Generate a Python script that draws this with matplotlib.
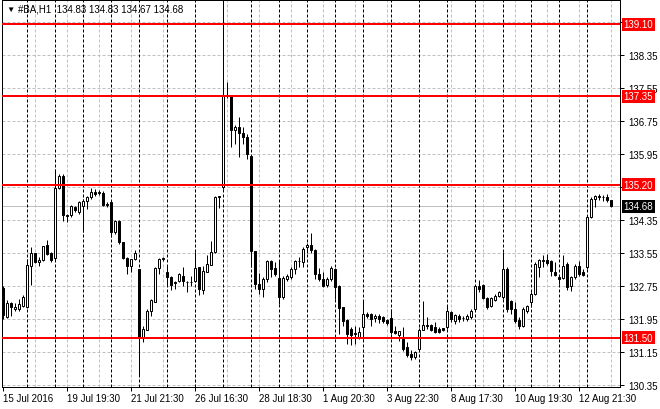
import matplotlib
matplotlib.use("Agg")
import matplotlib.pyplot as plt

plt.rcParams['font.family'] = ['Liberation Sans', 'DejaVu Sans']

# hourly bars of #BA, 15 Jul - 15 Aug 2016
opens = [132.70, 131.99, 132.34, 132.18, 132.19, 132.27, 132.23, 133.24, 133.54, 133.32,
         133.37, 133.74, 133.54, 133.42, 135.12, 135.41, 134.47, 134.46, 134.66, 134.55,
         134.70, 134.82, 134.90, 135.02, 135.00, 135.01, 134.72, 134.78, 134.07, 134.33,
         133.81, 133.42, 133.23, 133.40, 133.16, 131.51, 131.69, 132.14, 132.37, 133.18,
         133.41, 133.08, 132.96, 132.84, 132.86, 133.00, 132.84, 132.84, 132.86, 133.20,
         132.65, 133.10, 133.27, 133.57, 134.90, 135.14, 137.35, 137.36, 136.53, 136.61,
         136.45, 136.37, 135.91, 133.59, 132.80, 132.68, 132.92, 133.36, 133.18, 132.94,
         132.49, 132.92, 132.96, 133.16, 133.35, 133.32, 133.69, 133.74, 133.62, 133.04,
         132.92, 132.78, 132.92, 133.16, 132.76, 132.23, 131.93, 131.71, 131.59, 131.52,
         131.75, 132.07, 132.06, 131.97, 132.03, 131.99, 131.93, 131.97, 131.65, 131.57,
         131.46, 131.28, 131.10, 131.02, 131.22, 131.69, 131.79, 131.80, 131.75, 131.71,
         131.72, 131.75, 132.13, 131.89, 132.03, 131.97, 131.95, 131.99, 132.19, 132.76,
         132.77, 132.45, 132.26, 132.42, 132.51, 132.47, 133.16, 132.39, 132.19, 131.93,
         131.79, 132.15, 132.35, 132.56, 133.20, 133.36, 133.38, 133.35, 133.08, 132.97,
         132.95, 133.28, 132.76, 132.96, 133.24, 133.10, 133.20, 134.43, 134.86, 134.91,
         134.90, 134.91, 134.83]
highs = [132.75, 132.40, 132.35, 132.34, 132.44, 132.52, 133.40, 133.69, 133.55, 133.44,
         133.72, 133.87, 133.57, 135.59, 135.47, 135.47, 134.50, 134.71, 134.70, 134.82,
         134.86, 134.94, 135.12, 135.09, 135.08, 135.06, 134.78, 134.80, 134.36, 134.35,
         133.82, 133.44, 133.41, 133.63, 133.17, 131.79, 132.18, 132.44, 133.20, 133.42,
         133.45, 133.24, 132.98, 132.88, 133.06, 133.20, 132.88, 133.00, 133.58, 133.22,
         133.24, 133.49, 133.85, 134.92, 134.94, 139.65, 137.69, 137.38, 136.66, 136.84,
         136.60, 136.44, 135.92, 133.60, 133.06, 132.96, 133.38, 133.38, 133.32, 133.36,
         133.00, 133.04, 133.20, 133.37, 133.44, 133.69, 133.80, 134.03, 133.65, 133.19,
         133.08, 132.96, 133.24, 133.18, 132.78, 132.25, 131.95, 131.75, 131.79, 131.75,
         132.39, 132.11, 132.09, 132.06, 132.07, 132.01, 131.95, 132.20, 131.79, 131.65,
         131.75, 131.38, 131.20, 131.18, 131.72, 132.39, 131.99, 131.82, 131.87, 131.75,
         131.74, 132.30, 132.15, 132.07, 132.07, 132.03, 132.07, 132.18, 132.76, 132.90,
         132.80, 132.47, 132.47, 132.55, 132.63, 133.57, 133.20, 132.40, 132.35, 131.99,
         132.23, 132.28, 132.60, 133.32, 133.40, 133.49, 133.53, 133.37, 133.32, 133.00,
         133.49, 133.32, 133.00, 133.28, 133.36, 133.16, 134.45, 134.90, 134.96, 134.98,
         134.96, 134.97, 134.83]
lows = [131.95, 131.97, 132.03, 132.14, 132.15, 132.23, 132.21, 132.77, 133.30, 133.23,
        133.36, 133.49, 133.32, 133.36, 135.09, 134.33, 134.31, 134.42, 134.54, 134.50,
        134.05, 134.62, 134.86, 134.94, 134.95, 134.70, 134.66, 133.93, 134.00, 133.77,
        133.40, 133.04, 133.10, 133.38, 130.58, 131.39, 131.67, 132.03, 132.35, 133.04,
        133.36, 132.76, 132.64, 132.68, 132.84, 132.76, 132.60, 132.74, 132.84, 132.52,
        132.56, 133.08, 133.25, 133.55, 134.64, 135.10, 137.30, 136.11, 136.20, 135.87,
        136.19, 135.83, 133.20, 132.68, 132.56, 132.48, 132.84, 132.96, 133.00, 132.31,
        132.43, 132.88, 132.92, 133.04, 133.20, 133.20, 133.55, 133.55, 132.92, 132.88,
        132.72, 132.72, 132.88, 132.43, 131.59, 131.79, 131.34, 131.33, 131.34, 131.46,
        131.46, 131.97, 131.79, 131.87, 131.85, 131.85, 131.81, 131.59, 131.59, 131.42,
        131.18, 131.02, 130.96, 130.98, 131.20, 131.67, 131.71, 131.65, 131.62, 131.62,
        131.65, 131.71, 131.87, 131.83, 131.87, 131.91, 131.91, 131.95, 132.15, 132.60,
        132.43, 132.19, 132.23, 132.39, 132.47, 132.43, 132.11, 132.07, 131.85, 131.71,
        131.75, 132.10, 132.23, 132.52, 132.96, 133.20, 133.26, 133.00, 133.00, 132.80,
        132.92, 132.64, 132.62, 132.92, 133.00, 133.00, 133.16, 134.40, 134.66, 134.83,
        134.82, 134.78, 134.67]
closes = [132.05, 132.34, 132.23, 132.23, 132.31, 132.48, 133.26, 133.54, 133.32, 133.38,
          133.71, 133.53, 133.39, 135.12, 135.41, 134.46, 134.44, 134.70, 134.58, 134.78,
          134.82, 134.90, 135.02, 134.99, 135.02, 134.71, 134.74, 134.05, 134.33, 133.81,
          133.42, 133.24, 133.40, 133.54, 131.51, 131.71, 132.15, 132.40, 133.18, 133.40,
          133.43, 132.96, 132.78, 132.82, 133.04, 132.86, 132.84, 132.85, 133.18, 132.68,
          133.12, 133.28, 133.57, 134.90, 134.92, 137.36, 137.37, 136.53, 136.61, 136.45,
          136.37, 135.95, 133.59, 132.80, 132.68, 132.92, 133.36, 133.16, 133.04, 132.49,
          132.94, 133.00, 133.16, 133.35, 133.36, 133.65, 133.74, 133.61, 133.04, 132.92,
          132.76, 132.92, 133.19, 132.72, 132.22, 131.91, 131.59, 131.55, 131.60, 131.63,
          132.07, 132.01, 131.95, 132.03, 131.95, 131.91, 131.85, 131.63, 131.60, 131.65,
          131.22, 131.08, 131.02, 131.15, 131.69, 131.80, 131.80, 131.67, 131.64, 131.64,
          131.67, 132.15, 131.95, 132.05, 131.95, 131.97, 132.01, 132.15, 132.74, 132.68,
          132.45, 132.23, 132.45, 132.51, 132.61, 133.16, 132.19, 132.19, 131.91, 131.79,
          132.19, 132.26, 132.55, 133.28, 133.38, 133.37, 133.30, 133.11, 133.02, 132.92,
          133.24, 132.72, 132.96, 133.24, 133.04, 133.02, 134.43, 134.86, 134.94, 134.92,
          134.91, 134.83, 134.68]

levels = [139.10, 137.35, 135.20, 131.50]
bid = 134.68
price_ticks = [130.35, 131.15, 131.95, 132.75, 133.55, 134.35, 135.15, 135.95, 136.75, 137.55, 138.35, 139.15]
hidden_ticks = [135.15, 139.15]  # covered by the level boxes in the terminal
time_ticks = [0, 16, 32, 48, 64, 80, 96, 112, 128, 144]
time_labels = ["15 Jul 2016", "19 Jul 19:30", "21 Jul 21:30", "26 Jul 16:30", "28 Jul 18:30",
               "1 Aug 20:30", "3 Aug 22:30", "8 Aug 17:30", "10 Aug 19:30", "12 Aug 21:30"]
day_starts = [6 + 7 * k for k in range(21)]

fig = plt.figure(figsize=(6.6, 4.1), dpi=100)
ax = fig.add_axes([2 / 660, 22 / 410, 618 / 660, 387 / 410])

px = 0.72  # one pixel in points
dash = (0, (3, 2))

# grid
for p in price_ticks:
    ax.axhline(p, color='#c0c0c0', lw=px, ls=dash, zorder=1)
for b in range(8, 155, 8):
    ax.axvline(b, color='#c0c0c0', lw=px, ls=dash, zorder=1)
for b in day_starts:
    ax.axvline(b, color='black', lw=px, ls=dash, zorder=1.5)
ax.axhline(bid, color='#c0c0c0', lw=px, zorder=1.2)

# candles
n = len(closes)
xs = list(range(n))
ax.vlines(xs, lows, highs, color='black', lw=px, zorder=2)
bottoms = [min(o, c) for o, c in zip(opens, closes)]
heights = [abs(c - o) for o, c in zip(opens, closes)]
colors = ['white' if c >= o else 'black' for o, c in zip(opens, closes)]
ax.bar(xs, heights, bottom=bottoms, width=0.5, color=colors, edgecolor='black', linewidth=px, zorder=3)

# horizontal levels
for lv in levels:
    ax.axhline(lv, color='#ff0000', lw=2 * px, zorder=4)
    ax.text(1.006, lv, '%.2f' % lv, transform=ax.get_yaxis_transform(), ha='left', va='center',
            color='white', fontsize=7, zorder=10, clip_on=False,
            bbox=dict(boxstyle='square,pad=0.15', fc='#ff0000', ec='none'))
ax.text(1.006, bid, '%.2f' % bid, transform=ax.get_yaxis_transform(), ha='left', va='center',
        color='white', fontsize=7, zorder=10, clip_on=False,
        bbox=dict(boxstyle='square,pad=0.15', fc='black', ec='none'))

ax.set_xlim(-0.25, 154.25)
ax.set_ylim(130.30, 139.683)

ax.yaxis.tick_right()
ax.set_yticks(price_ticks)
ax.set_yticklabels(['' if p in hidden_ticks else '%.2f' % p for p in price_ticks])
ax.set_xticks(time_ticks)
ax.set_xticklabels(time_labels, ha='left')
ax.tick_params(axis='both', direction='out', length=3, width=px, labelsize=7, colors='black')
ax.tick_params(axis='y', pad=3)
ax.tick_params(axis='x', pad=1)
for s in ax.spines.values():
    s.set_linewidth(px)
    s.set_color('black')

fig.text(6 / 660, 1 - 10 / 410, '\u25bc', fontsize=6, va='center', ha='left')
fig.text(18 / 660, 1 - 10 / 410, '#BA,H1  134.83 134.83 134.67 134.68', fontsize=7, va='center', ha='left')

fig.savefig('out.png', dpi=100, facecolor='white')
